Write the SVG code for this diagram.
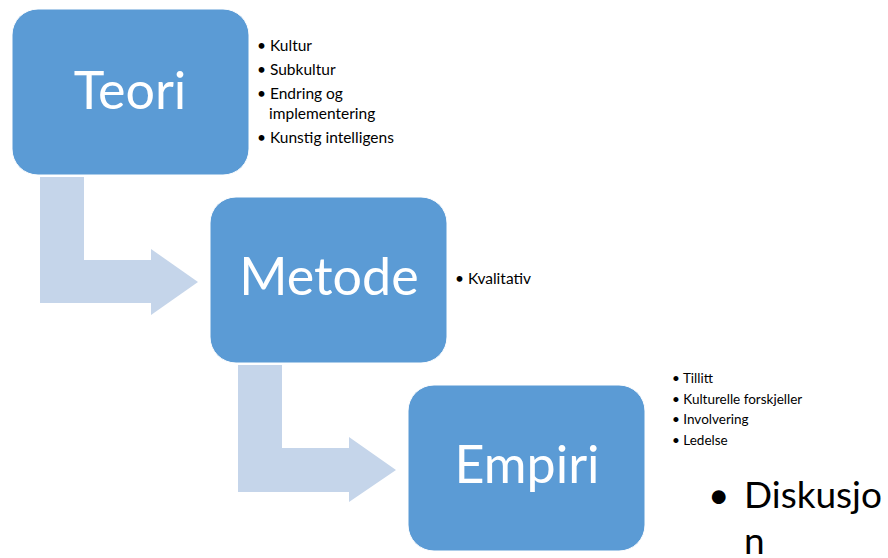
<svg xmlns="http://www.w3.org/2000/svg" width="888" height="558" viewBox="0 0 888 558">
  <style>
    .box { fill: #5b9bd5; stroke: #ffffff; stroke-width: 1; }
    .arrow { fill: #c5d5ea; }
    .title { font-family: Lato, "Liberation Sans", sans-serif; fill: #ffffff; text-anchor: middle; }
    .item { font-family: Lato, "Liberation Sans", sans-serif; fill: #000000; }
  </style>
  <rect width="888" height="558" fill="#ffffff"/>

  <!-- bent arrows between the stages -->
  <g id="connectors">
    <path class="arrow" d="M40,177 H84 V260 H151 V249 L198,282 L151,315 V303 H40 Z"/>
    <path class="arrow" d="M238,365 H282 V448 H349 V437 L396,470 L349,502 V492 H238 Z"/>
  </g>

  <g id="teori">
    <rect class="box" x="12" y="9" width="237" height="166" rx="26"/>
    <text class="title" x="130" y="109" font-size="52">Teori</text>
    <g class="item" font-size="15.5">
      <text x="257" y="51">• Kultur</text>
      <text x="257" y="75">• Subkultur</text>
      <text x="257" y="99">• Endring og</text>
      <text x="269" y="119">implementering</text>
      <text x="257" y="143">• Kunstig intelligens</text>
    </g>
  </g>

  <g id="metode">
    <rect class="box" x="210" y="197" width="237" height="166" rx="26"/>
    <text class="title" x="329" y="295" font-size="52">Metode</text>
    <text class="item" x="455" y="284" font-size="15.5">• Kvalitativ</text>
  </g>

  <g id="empiri">
    <rect class="box" x="408" y="385" width="237" height="166" rx="26"/>
    <text class="title" x="527" y="483" font-size="52">Empiri</text>
    <g class="item" font-size="13.5">
      <text x="672" y="383">• Tillitt</text>
      <text x="672" y="404">• Kulturelle forskjeller</text>
      <text x="672" y="424">• Involvering</text>
      <text x="672" y="445">• Ledelse</text>
    </g>
  </g>

  <g id="diskusjon" class="item" font-size="37">
    <text x="708" y="508">•</text>
    <text x="744" y="508">Diskusjo</text>
    <text x="744" y="554">n</text>
  </g>
</svg>
